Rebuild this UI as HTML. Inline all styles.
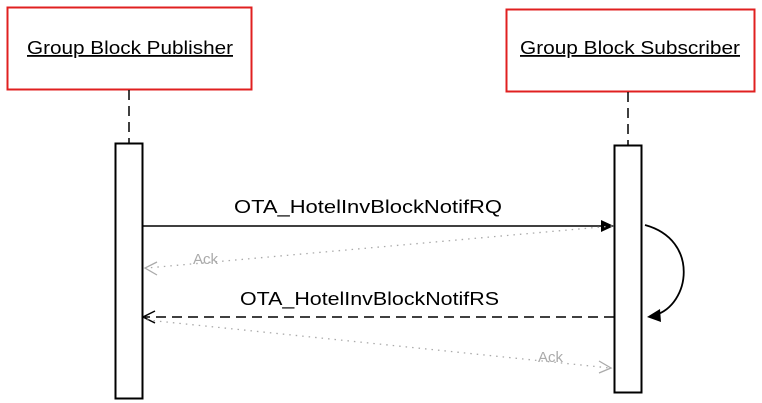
<!DOCTYPE html>
<html><head><style>body{margin:0;background:#fff;}svg{display:block;font-family:"Liberation Sans",sans-serif;}</style></head>
<body>
<svg width="762" height="403" viewBox="0 0 762 403">
<rect x="7.5" y="7.5" width="244" height="82" fill="#fff" stroke="#e02020" stroke-width="2"/>
<rect x="506.5" y="9.5" width="248" height="82" fill="#fff" stroke="#e02020" stroke-width="2"/>
<text x="27" y="54" font-size="18" textLength="206" lengthAdjust="spacingAndGlyphs" text-decoration="underline">Group Block Publisher</text>
<text x="520" y="54" font-size="18" textLength="220" lengthAdjust="spacingAndGlyphs" text-decoration="underline">Group Block Subscriber</text>
<line x1="129" y1="90" x2="129" y2="143" stroke="#000" stroke-width="1.5" stroke-dasharray="10,6"/>
<line x1="628" y1="92" x2="628" y2="145" stroke="#000" stroke-width="1.5" stroke-dasharray="10,6"/>
<rect x="115.5" y="143.5" width="27" height="255" fill="#fff" stroke="#000" stroke-width="2"/>
<rect x="614.5" y="145.5" width="27" height="247" fill="#fff" stroke="#000" stroke-width="2"/>
<line x1="143" y1="226" x2="602" y2="226" stroke="#000" stroke-width="1.5"/>
<polygon points="614,226 601,220 601,232" fill="#000"/>
<text x="234" y="213" font-size="18" textLength="268" lengthAdjust="spacingAndGlyphs">OTA_HotelInvBlockNotifRQ</text>
<line x1="612" y1="226" x2="147" y2="268" stroke="#aaa" stroke-width="1.3" stroke-dasharray="1.5,5"/>
<polyline points="157,262 145,268 157,275" fill="none" stroke="#aaa" stroke-width="1.3"/>
<text x="193" y="264" font-size="15" fill="#aaa">Ack</text>
<line x1="614" y1="317" x2="145" y2="317" stroke="#000" stroke-width="1.5" stroke-dasharray="10,6"/>
<polyline points="155,311 143,317 155,323" fill="none" stroke="#000" stroke-width="1.5"/>
<text x="240" y="305" font-size="18" textLength="259" lengthAdjust="spacingAndGlyphs">OTA_HotelInvBlockNotifRS</text>
<line x1="147" y1="320" x2="610" y2="368" stroke="#aaa" stroke-width="1.3" stroke-dasharray="1.5,5"/>
<polyline points="599,361 611,368 599,373" fill="none" stroke="#aaa" stroke-width="1.3"/>
<text x="538" y="362" font-size="15" fill="#aaa">Ack</text>
<path d="M645,225 C700,240 690,305 655,315" fill="none" stroke="#000" stroke-width="1.8"/>
<polygon points="647,317 660,309 661,322" fill="#000"/>
</svg>
</body></html>
